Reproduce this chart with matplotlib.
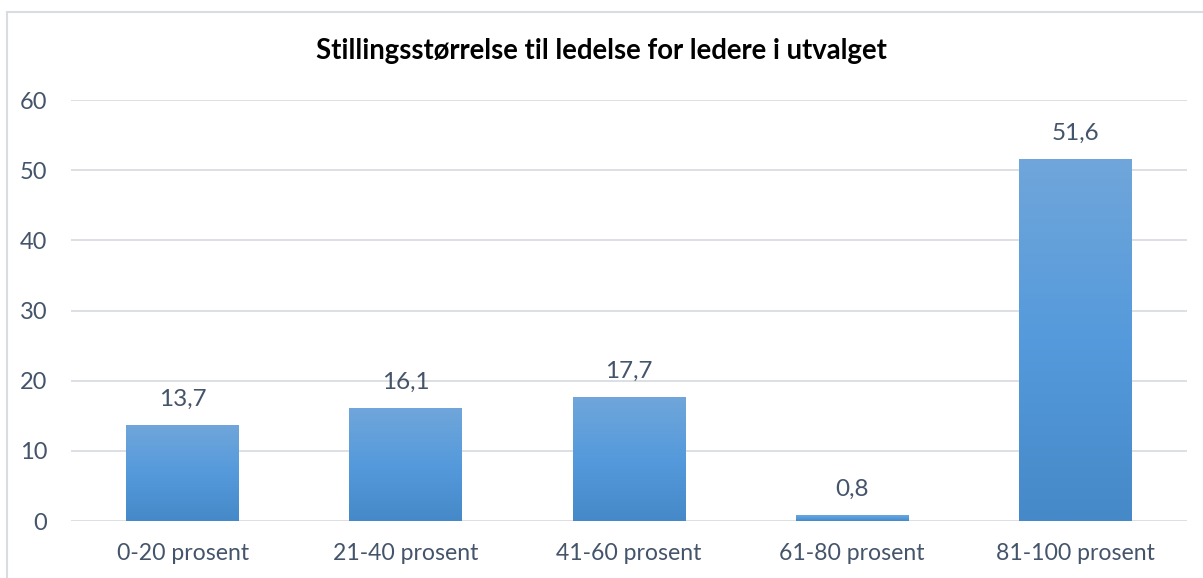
import numpy as np
import matplotlib
matplotlib.use("Agg")
import matplotlib.pyplot as plt
from matplotlib.colors import LinearSegmentedColormap
from matplotlib.patches import Rectangle

categories = ["0-20 prosent", "21-40 prosent", "41-60 prosent", "61-80 prosent", "81-100 prosent"]
values = [13.7, 16.1, 17.7, 0.8, 51.6]
labels = ["13,7", "16,1", "17,7", "0,8", "51,6"]
title = "Stillingsstørrelse til ledelse for ledere i utvalget"

plt.rcParams['font.family'] = ['Lato', 'DejaVu Sans']
txt = "#44546A"

fig = plt.figure(figsize=(12.03, 5.78), dpi=100)
ax = fig.add_axes([71/1203, (578-521)/578, (1187-71)/1203, (521-100)/578])

x = np.arange(len(categories))
bars = ax.bar(x, values, width=0.506, color="none", zorder=3)
cmap = LinearSegmentedColormap.from_list("g", ["#4589C8", "#559ADC", "#70A6DA"])
grad = np.linspace(0, 1, 256).reshape(-1, 1)
for b in bars:
    x0, y0, w, h = b.get_x(), b.get_y(), b.get_width(), b.get_height()
    im = ax.imshow(grad, cmap=cmap, origin="lower", aspect="auto",
                   extent=[x0, x0 + w, y0, y0 + h], zorder=3)
    im.set_clip_path(b)

for xi, v, lab in zip(x, values, labels):
    ax.annotate(lab, (xi, v), xytext=(0, 11), textcoords="offset points",
                ha="center", va="bottom", fontsize=17.5, color=txt)

ax.set_xlim(-0.5, len(categories) - 0.5)
ax.set_ylim(0, 60)
ax.set_yticks(range(0, 61, 10))
ax.set_xticks(x)
ax.set_xticklabels(categories)
ax.grid(axis="y", color="#D9DDE3", linewidth=1.3, zorder=0)
ax.set_axisbelow(True)
for s in ax.spines.values():
    s.set_visible(False)
ax.tick_params(axis="both", length=0, labelcolor=txt)
ax.tick_params(axis="y", pad=17, labelsize=17)
ax.tick_params(axis="x", pad=16, labelsize=16.6)

fig.text(0.5, 1 - 51/578, title, ha="center", va="center", fontsize=19.8,
         fontweight="bold", color="black")

fig.patches.append(Rectangle((7/1203, -0.1), 1.2, 1 - 12/578 + 0.1,
                             transform=fig.transFigure, fill=False,
                             edgecolor="#D9DDE3", linewidth=1.5))

fig.savefig("out.png", dpi=100)
